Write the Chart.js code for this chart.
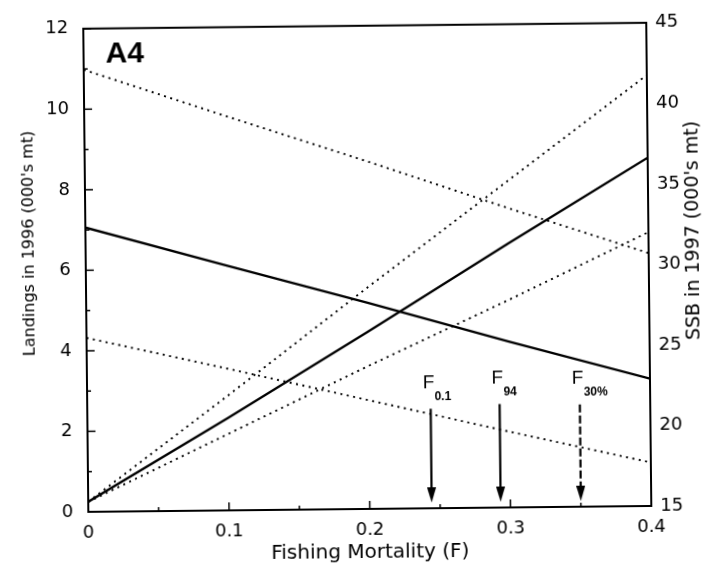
<!DOCTYPE html>
<html><head><meta charset="utf-8">
<script src="https://cdn.jsdelivr.net/npm/chart.js@4"></script>
<style>
html,body{margin:0;padding:0;background:#fff;overflow:hidden;}
#wrap{width:721px;height:575px;transform:rotate(-0.6deg);transform-origin:50% 50%;}
canvas{display:block;}
</style></head><body>
<div id="wrap"><canvas id="c" width="721" height="575"></canvas></div>
<script>
// ---- data ----
const fishingMortality = [0, 0.1, 0.2, 0.3, 0.4];
const landingsHigh = [0.25, 2.85, 5.5, 8.1, 10.7];
const landingsMid  = [0.25, 2.3, 4.4, 6.55, 8.65];
const landingsLow  = [0.25, 1.9, 3.55, 5.15, 6.8];
const ssbHigh = [42.45, 39.5, 36.6, 33.6, 30.7];
const ssbMid  = [32.65, 30.2, 27.8, 25.3, 22.9];
const ssbLow  = [25.8, 23.8, 21.75, 19.7, 17.7];
const refPointNames = ['0.1', '94', '30%'];
const refPointF = [0.244, 0.293, 0.35];
const refArrowTop = [2.47, 2.57, 2.54];
const refArrowHead = 0.33;
const panelLabel = 'A4';
const xTitle = 'Fishing Mortality (F)';
const yTitle = "Landings in 1996 (000's mt)";
const y2Title = "SSB in 1997 (000's mt)";

const pts = (ys) => fishingMortality.map((f, i) => ({x: f, y: ys[i]}));

// arrowhead image
const head = document.createElement('canvas');
head.width = 9; head.height = 15;
{ const h = head.getContext('2d'); h.fillStyle = '#000'; h.beginPath(); h.moveTo(0,0); h.lineTo(9,0); h.lineTo(4.5,15); h.closePath(); h.fill(); }

const DOT = [2, 4.5];
const lineDs = (ys, axis, dotted) => ({
  data: pts(ys), yAxisID: axis, borderColor: '#000', borderWidth: dotted ? 1.9 : 2.3,
  borderDash: dotted ? DOT : [], pointRadius: 0, tension: 0, fill: false
});

const arrowDs = refPointF.map((f, i) => ({
  data: [{x: f, y: refArrowTop[i]}, {x: f, y: refArrowHead}], yAxisID: 'y',
  borderColor: '#000', borderWidth: 2.2, borderDash: i === 2 ? [8, 3] : [],
  pointRadius: (c) => c.dataIndex === 1 ? 5 : 0,
  pointStyle: (c) => c.dataIndex === 1 ? head : 'circle',
  pointBackgroundColor: '#000', pointBorderWidth: 0
}));

const decor = {
  id: 'decor',
  afterDatasetsDraw(chart) {
    const {ctx, chartArea: a, scales: {x, y}} = chart;
    ctx.save();
    ctx.strokeStyle = '#000';
    ctx.lineWidth = 2;
    ctx.strokeRect(a.left, a.top, a.right - a.left, a.bottom - a.top);
    ctx.lineWidth = 1.5;
    const seg = (x1, y1, x2, y2) => { ctx.beginPath(); ctx.moveTo(x1, y1); ctx.lineTo(x2, y2); ctx.stroke(); };
    const yt = y.ticks.map(t => t.value);
    yt.forEach((v, i) => {
      const p = y.getPixelForValue(v); seg(a.left, p, a.left + 8, p);
      if (i < yt.length - 1) { const m = y.getPixelForValue((v + yt[i + 1]) / 2); seg(a.left, m, a.left + 4, m); }
    });
    const xt = x.ticks.map(t => t.value);
    xt.forEach((v, i) => {
      const p = x.getPixelForValue(v); seg(p, a.bottom, p, a.bottom - 8);
      if (i < xt.length - 1) { const m = x.getPixelForValue((v + xt[i + 1]) / 2); seg(m, a.bottom, m, a.bottom - 4); }
    });
    // reference point labels
    ctx.fillStyle = '#000';
    ctx.textBaseline = 'middle';
    refPointF.forEach((f, i) => {
      const px = x.getPixelForValue(f);
      const py = y.getPixelForValue(refArrowTop[i]);
      ctx.font = '19px "Liberation Sans"';
      ctx.textAlign = 'center';
      ctx.fillText('F', px - 2, py - 26);
      ctx.font = 'bold 12px "Liberation Sans"';
      ctx.textAlign = 'left';
      ctx.fillText(refPointNames[i], px + 4, py - 12);
    });
    // panel label
    ctx.font = 'bold 30px "Liberation Sans"';
    ctx.textAlign = 'left';
    ctx.fillText(panelLabel, a.left + 22, a.top + 26);
    // vertical titles
    ctx.textAlign = 'center';
    ctx.font = '16px "DejaVu Sans"';
    ctx.save(); ctx.translate(30, 240); ctx.rotate(-Math.PI / 2); ctx.fillText(yTitle, 0, 0); ctx.restore();
    ctx.font = '19px "DejaVu Sans"';
    ctx.save(); ctx.translate(694, 234); ctx.rotate(-Math.PI / 2); ctx.fillText(y2Title, 0, 0); ctx.restore();
    ctx.restore();
  }
};

const tickFont = {family: '"DejaVu Sans"', size: 18};
new Chart(document.getElementById('c'), {
  type: 'line',
  data: {
    datasets: [
      lineDs(landingsHigh, 'y', true),
      lineDs(landingsMid, 'y', false),
      lineDs(landingsLow, 'y', true),
      lineDs(ssbHigh, 'y2', true),
      lineDs(ssbMid, 'y2', false),
      lineDs(ssbLow, 'y2', true),
      ...arrowDs
    ]
  },
  options: {
    responsive: false, animation: false,
    layout: {padding: {top: 17, left: 0, right: 0, bottom: 0}},
    plugins: {legend: {display: false}, tooltip: {enabled: false}},
    scales: {
      x: {
        type: 'linear', min: 0, max: 0.4,
        grid: {display: false, drawTicks: false}, border: {display: false},
        ticks: {stepSize: 0.1, padding: 11, color: '#000', font: tickFont,
          callback: (v) => v === 0 ? '0' : v.toFixed(1)},
        title: {display: true, text: xTitle, color: '#000', font: {family: '"DejaVu Sans"', size: 20}, padding: {top: 0, bottom: 10}},
        afterFit: (s) => { s.height = 66; }
      },
      y: {
        position: 'left', min: 0, max: 12,
        grid: {display: false, drawTicks: false}, border: {display: false},
        ticks: {stepSize: 2, padding: 15, color: '#000', font: tickFont},
        afterFit: (s) => { s.width = 86; }
      },
      y2: {
        position: 'right', min: 15, max: 45,
        grid: {display: false, drawTicks: false}, border: {display: false},
        ticks: {stepSize: 5, padding: 9, color: '#000', font: tickFont},
        afterFit: (s) => { s.width = 72; }
      }
    }
  },
  plugins: [decor]
});
</script>
</body></html>
